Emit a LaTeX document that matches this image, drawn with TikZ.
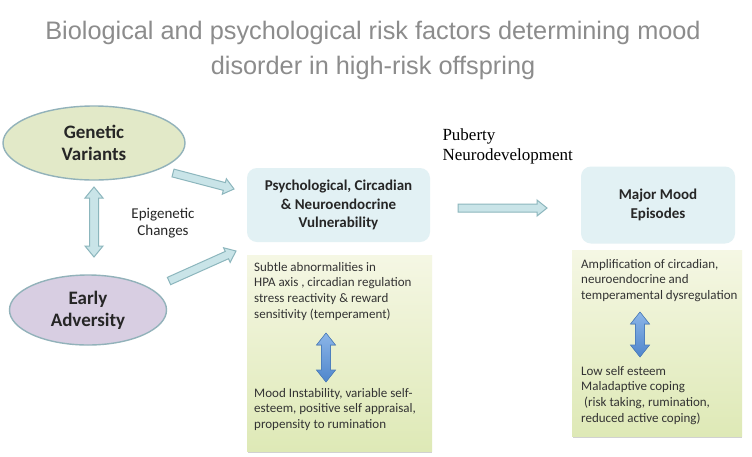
\documentclass[tikz,border=0pt]{standalone}
\usepackage{fontspec}
\setmainfont{Carlito}
\newfontfamily\headfont{Liberation Sans}
\newfontfamily\timesfont{Liberation Serif}
\usetikzlibrary{shapes.geometric,calc}
\definecolor{ringblue}{RGB}{146,178,186}
\definecolor{genfill}{RGB}{226,233,200}
\definecolor{advfill}{RGB}{216,206,226}
\definecolor{boxfill}{RGB}{226,241,244}
\definecolor{arrfill}{RGB}{201,228,232}
\definecolor{arrline}{RGB}{140,182,189}
\definecolor{greentop}{RGB}{245,247,228}
\definecolor{greenbot}{RGB}{222,233,182}
\definecolor{bluetop}{RGB}{140,182,232}
\definecolor{bluebot}{RGB}{79,134,204}
\definecolor{blueline}{RGB}{78,128,190}
\tikzset{
    blob/.style =   {ellipse,
                    draw=ringblue,
                    line width=1.4pt,
                    text=black!85,
                    align=center,
                    font=\bfseries\fontsize{19}{22}\selectfont},
    vulner/.style = {rectangle,
                    rounded corners=10pt,
                    fill=boxfill,
                    text=black!85,
                    align=center,
                    font=\bfseries\fontsize{15}{18.5}\selectfont},
    panel/.style =  {rectangle,
                    top color=greentop,
                    bottom color=greenbot},
    panelshade/.style = {line width=1.5pt,
                    draw=black!18},
    note/.style =   {anchor=north west,
                    align=left,
                    inner sep=0pt,
                    text=black!80,
                    font=\fontsize{13}{15.7}\selectfont},
    hollow/.style = {fill=arrfill,
                    draw=arrline,
                    line width=1pt},
    solid/.style =  {top color=bluetop,
                    bottom color=bluebot,
                    draw=blueline,
                    line width=0.6pt},
    -,
    x=1pt, y=-1pt}
% #1 style, #2 from, #3 to, #4 half shaft, #5 half head, #6 head length
\newcommand{\oneway}[6]{%
    \coordinate (hb) at ($(#3)!#6!(#2)$);
    \filldraw[#1] ($(#2)!#4!90:(#3)$) -- ($(hb)!#4!90:(#3)$) -- ($(hb)!#5!90:(#3)$)
        -- (#3) -- ($(hb)!#5!-90:(#3)$) -- ($(hb)!#4!-90:(#3)$) -- ($(#2)!#4!-90:(#3)$) -- cycle;}
\newcommand{\twoway}[6]{%
    \coordinate (ha) at ($(#2)!#6!(#3)$);
    \coordinate (hb) at ($(#3)!#6!(#2)$);
    \filldraw[#1] (#2) -- ($(ha)!#5!90:(#3)$) -- ($(ha)!#4!90:(#3)$) -- ($(hb)!#4!90:(#3)$)
        -- ($(hb)!#5!90:(#3)$) -- (#3) -- ($(hb)!#5!-90:(#3)$) -- ($(hb)!#4!-90:(#3)$)
        -- ($(ha)!#4!-90:(#3)$) -- ($(ha)!#5!-90:(#3)$) -- cycle;}
\begin{document}
\begin{tikzpicture}
            \useasboundingbox[fill=white] (0,0) rectangle (752,456);
            \node[text=black!45,align=center,font=\headfont\fontsize{25.3}{35}\selectfont]
                (title) at (373,50) {Biological and psychological risk factors determining mood\\disorder in high-risk offspring};
            % left column
            \node[blob,fill=genfill,minimum width=182pt,minimum height=74pt] (gen) at (94,143) {Genetic\\Variants};
            \node[blob,fill=advfill,minimum width=157pt,minimum height=70pt] (adv) at (88,310) {Early\\Adversity};
            \node[align=center,text=black!85,font=\fontsize{15}{17}\selectfont] (epi) at (163,223) {Epigenetic\\Changes};
            % middle column
            \node[vulner,minimum width=183pt,minimum height=74pt] (psy) at (338.5,205) {Psychological, Circadian\\\& Neuroendocrine\\Vulnerability};
            \draw[panelshade] (248,452) -- (432,452);
            \node[panel,minimum width=185pt,minimum height=196pt] (grn1) at (339.5,353.5) {};
            \node[note] (sub) at (254,262) {Subtle abnormalities in\\HPA axis , circadian regulation\\stress reactivity \& reward\\sensitivity (temperament)};
            \node[note] (ins) at (254,388) {Mood Instability, variable self-\\esteem, positive self appraisal,\\propensity to rumination};
            % right column
            \node[align=left,font=\timesfont\fontsize{17}{20}\selectfont,anchor=west] (pub) at (439,146) {Puberty\\Neurodevelopment};
            \node[vulner,minimum width=154pt,minimum height=77pt] (mood) at (658,205) {Major Mood\\Episodes};
            \draw[panelshade] (573,437) -- (742,437);
            \node[panel,minimum width=170pt,minimum height=186pt] (grn2) at (657,343.5) {};
            \node[note] (amp) at (581,259) {Amplification of circadian,\\neuroendocrine and\\temperamental dysregulation};
            \node[note] (low) at (581,366) {Low self esteem\\Maladaptive coping\\\ (risk taking, rumination,\\reduced active coping)};
            % arrow ends
            \coordinate (g1) at (94,187);
            \coordinate (a1) at (94,257);
            \coordinate (g2) at (173,173);
            \coordinate (p1) at (234,189);
            \coordinate (a2) at (169,281);
            \coordinate (p2) at (236,251);
            \coordinate (p3) at (458,208);
            \coordinate (m1) at (547,208);
            \coordinate (s1) at (326,333);
            \coordinate (s2) at (326,382);
            \coordinate (t1) at (640,312);
            \coordinate (t2) at (640,357);
            \twoway{hollow}{g1}{a1}{4.5pt}{9pt}{11pt}
            \oneway{hollow}{g2}{p1}{4pt}{8pt}{10pt}
            \oneway{hollow}{a2}{p2}{4pt}{8pt}{10pt}
            \oneway{hollow}{p3}{m1}{4pt}{8pt}{10pt}
            \twoway{solid}{s1}{s2}{4.5pt}{9.5pt}{12pt}
            \twoway{solid}{t1}{t2}{4.5pt}{9.5pt}{12pt}
\end{tikzpicture}
\end{document}
